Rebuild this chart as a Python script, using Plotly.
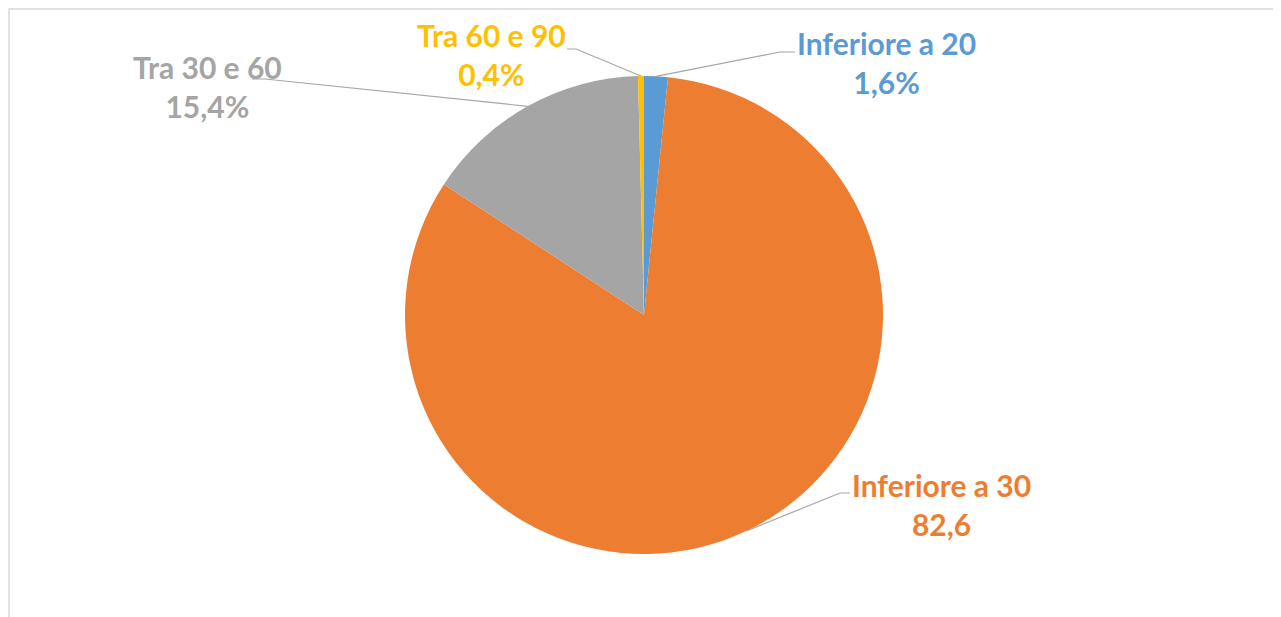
import math

import plotly.graph_objects as go

# data
labels = ["Inferiore a 20", "Inferiore a 30", "Tra 30 e 60", "Tra 60 e 90"]
values = [1.6, 82.6, 15.4, 0.4]
value_text = ["1,6%", "82,6", "15,4%", "0,4%"]
colors = ["#5B9BD5", "#ED7D31", "#A5A5A5", "#FFC000"]

W, H = 1281, 617
OFF = 8  # page body margin around the figure
M_L, M_R, M_T, M_B = 0, 9, 68, 71
PW, PH = W - M_L - M_R, H - M_T - M_B
CX, CY = M_L + PW / 2 + OFF, M_T + PH / 2 + OFF
R = min(PW, PH) / 2

# label centre and leader line elbow / end, in page px, per slice
label_pos = [(886, 62), (941, 504), (207, 86), (491, 54)]
leader_pts = [[(780, 52), (795, 52)], [(840, 493), (850, 493)],
              [(265, 79), (252, 79)], [(576, 49), (567, 49)]]


def px_to_paper(x, y):
    return (x - OFF - M_L) / PW, 1 - (y - OFF - M_T) / PH


fig = go.Figure(go.Pie(
    labels=labels, values=values, sort=False, direction="clockwise", rotation=0,
    marker=dict(colors=colors, line=dict(width=0)),
    textinfo="none", hoverinfo="label+value", domain=dict(x=[0, 1], y=[0, 1]),
))

total = sum(values)
cum = 0
annotations = []
shapes = []
for i, v in enumerate(values):
    mid = (cum + v / 2) / total * 2 * math.pi
    cum += v
    ex, ey = CX + R * math.sin(mid), CY - R * math.cos(mid)
    pts = [(ex, ey)] + leader_pts[i]
    path = ""
    for j, (px, py) in enumerate(pts):
        qx, qy = px_to_paper(px, py)
        path += ("M" if j == 0 else " L") + f" {qx:.5f} {qy:.5f}"
    shapes.append(dict(type="path", path=path, xref="paper", yref="paper",
                       line=dict(color="#A6A6A6", width=1.2)))
    lx, ly = px_to_paper(*label_pos[i])
    annotations.append(dict(
        x=lx, y=ly, xref="paper", yref="paper", showarrow=False,
        text=f"{labels[i]}<br>{value_text[i]}", align="center",
        xanchor="center", yanchor="middle",
        font=dict(family="Lato", size=30, color=colors[i], weight="bold"),
    ))

# chart frame
fx0, fy0 = px_to_paper(9, 9)
fx1, fy1 = px_to_paper(1279, 640)
shapes.append(dict(type="rect", xref="paper", yref="paper", x0=fx0, y0=fy1, x1=fx1, y1=fy0,
                   line=dict(color="#D9D9D9", width=1.5), layer="below"))

fig.update_layout(
    width=W, height=H, margin=dict(l=M_L, r=M_R, t=M_T, b=M_B),
    paper_bgcolor="white", plot_bgcolor="white", showlegend=False,
    annotations=annotations, shapes=shapes,
)

fig.write_html("out.html")
